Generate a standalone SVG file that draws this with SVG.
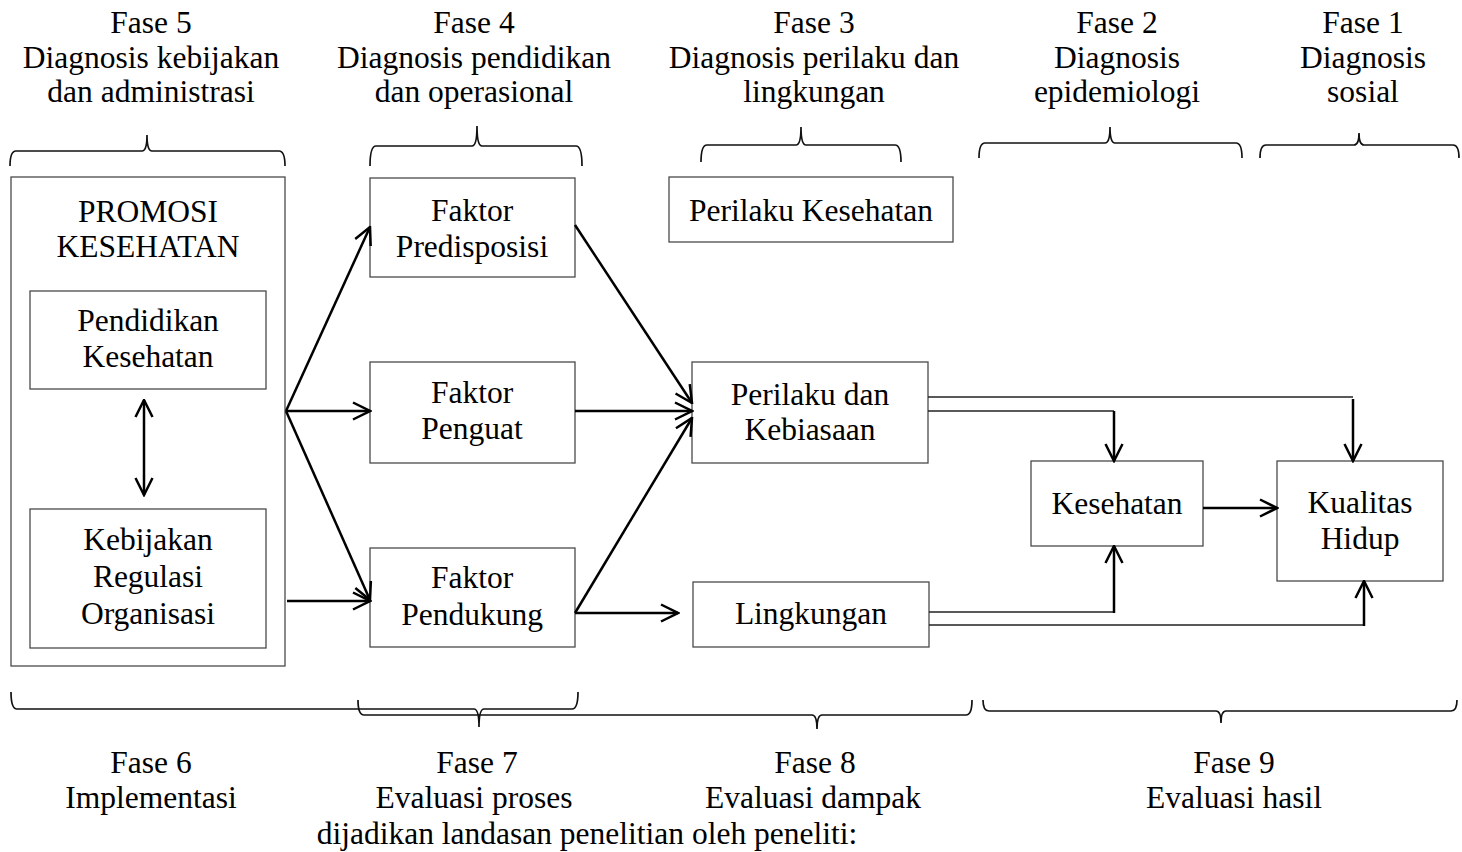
<svg xmlns="http://www.w3.org/2000/svg" width="1462" height="852" viewBox="0 0 1462 852">
<style>
  text { font-family: "Liberation Serif", "Times New Roman", serif; font-size: 31.5px; fill: #000; text-anchor: middle; }
  .box { fill: #fff; stroke: #4a4a4a; stroke-width: 1.3; }
  .arr { fill: none; stroke: #000; stroke-width: 2.5; marker-end: url(#ah); }
  .thin { fill: none; stroke: #222; stroke-width: 1.6; }
  .brace { fill: none; stroke: #111; stroke-width: 1.7; }
</style>
<defs>
  <marker id="ah" viewBox="0 0 20 20" refX="18.5" refY="10" markerWidth="20" markerHeight="20" markerUnits="userSpaceOnUse" orient="auto-start-reverse">
    <path d="M1.5,1.5 L18.5,10 L1.5,18.5" fill="none" stroke="#000" stroke-width="2.5"/>
  </marker>
</defs>

<g id="labels-top">
  <text x="151" y="33">Fase 5</text>
  <text x="151" y="68">Diagnosis kebijakan</text>
  <text x="151" y="102">dan administrasi</text>
  <text x="474" y="33">Fase 4</text>
  <text x="474" y="68">Diagnosis pendidikan</text>
  <text x="474" y="102">dan operasional</text>
  <text x="814" y="33">Fase 3</text>
  <text x="814" y="68">Diagnosis perilaku dan</text>
  <text x="814" y="102">lingkungan</text>
  <text x="1117" y="33">Fase 2</text>
  <text x="1117" y="68">Diagnosis</text>
  <text x="1117" y="102">epidemiologi</text>
  <text x="1363" y="33">Fase 1</text>
  <text x="1363" y="68">Diagnosis</text>
  <text x="1363" y="102">sosial</text>
</g>

<g id="braces">
  <path class="brace" d="M10,166 Q10,151 16,151 L142,151 Q147,151 147,135 Q147,151 152,151 L279,151 Q285,151 285,166"/>
  <path class="brace" d="M370,166 Q370,146 376,146 L472,146 Q477,146 477,126 Q477,146 482,146 L576,146 Q582,146 582,166"/>
  <path class="brace" d="M701,162 Q701,145 707,145 L796,145 Q801,145 801,127 Q801,145 806,145 L895,145 Q901,145 901,162"/>
  <path class="brace" d="M979,158 Q979,143 985,143 L1105,143 Q1110,143 1110,127 Q1110,143 1115,143 L1236,143 Q1242,143 1242,158"/>
  <path class="brace" d="M1260,158 Q1260,145 1266,145 L1354,145 Q1359,145 1359,133 Q1359,145 1364,145 L1453,145 Q1459,145 1459,158"/>
  <path class="brace" d="M11,692 Q11,709 17,709 L474,709 Q479,709 479,727 Q479,709 484,709 L572,709 Q578,709 578,692"/>
  <path class="brace" d="M358,700 Q358,715 364,715 L812,715 Q817,715 817,729 Q817,715 822,715 L966,715 Q972,715 972,700"/>
  <path class="brace" d="M983,700 Q983,711 989,711 L1216,711 Q1221,711 1221,723 Q1221,711 1226,711 L1451,711 Q1457,711 1457,700"/>
</g>

<g id="labels-bottom">
  <text x="151" y="773">Fase 6</text>
  <text x="151" y="808">Implementasi</text>
  <text x="477" y="773">Fase 7</text>
  <text x="474" y="808">Evaluasi proses</text>
  <text x="815" y="773">Fase 8</text>
  <text x="813" y="808">Evaluasi dampak</text>
  <text x="1234" y="773">Fase 9</text>
  <text x="1234" y="808">Evaluasi hasil</text>
  <text x="587" y="844">dijadikan landasan penelitian oleh peneliti:</text>
</g>

<g id="promosi-kesehatan">
  <rect class="box" x="11" y="177" width="274" height="489"/>
  <text x="148" y="222">PROMOSI</text>
  <text x="148" y="257">KESEHATAN</text>
</g>
<g id="pendidikan-kesehatan">
  <rect class="box" x="30" y="291" width="236" height="98"/>
  <text x="148" y="331">Pendidikan</text>
  <text x="148" y="367">Kesehatan</text>
</g>
<g id="kebijakan">
  <rect class="box" x="30" y="509" width="236" height="139"/>
  <text x="148" y="550">Kebijakan</text>
  <text x="148" y="587">Regulasi</text>
  <text x="148" y="624">Organisasi</text>
</g>
<g id="faktor-predisposisi">
  <rect class="box" x="370" y="178" width="205" height="99"/>
  <text x="472" y="221">Faktor</text>
  <text x="472" y="257">Predisposisi</text>
</g>
<g id="faktor-penguat">
  <rect class="box" x="370" y="362" width="205" height="101"/>
  <text x="472" y="403">Faktor</text>
  <text x="472" y="439">Penguat</text>
</g>
<g id="faktor-pendukung">
  <rect class="box" x="370" y="548" width="205" height="99"/>
  <text x="472" y="588">Faktor</text>
  <text x="472" y="625">Pendukung</text>
</g>
<g id="perilaku-kesehatan">
  <rect class="box" x="669" y="177" width="284" height="65"/>
  <text x="811" y="221">Perilaku Kesehatan</text>
</g>
<g id="perilaku-kebiasaan">
  <rect class="box" x="692" y="362" width="236" height="101"/>
  <text x="810" y="405">Perilaku dan</text>
  <text x="810" y="440">Kebiasaan</text>
</g>
<g id="lingkungan">
  <rect class="box" x="693" y="582" width="236" height="65"/>
  <text x="811" y="624">Lingkungan</text>
</g>
<g id="kesehatan">
  <rect class="box" x="1031" y="461" width="172" height="85"/>
  <text x="1117" y="514">Kesehatan</text>
</g>
<g id="kualitas-hidup">
  <rect class="box" x="1277" y="461" width="166" height="120"/>
  <text x="1360" y="513">Kualitas</text>
  <text x="1360" y="549">Hidup</text>
</g>

<g id="connectors">
  <line class="arr" x1="144" y1="400" x2="144" y2="495" marker-start="url(#ah)"/>
  <line class="arr" x1="286" y1="411" x2="370" y2="227"/>
  <line class="arr" x1="286" y1="411" x2="370" y2="411"/>
  <line class="arr" x1="286" y1="411" x2="370" y2="600"/>
  <line class="arr" x1="287" y1="601" x2="370" y2="601"/>
  <line class="arr" x1="575" y1="225" x2="692" y2="403"/>
  <line class="arr" x1="575" y1="411" x2="692" y2="411"/>
  <line class="arr" x1="575" y1="613" x2="692" y2="418"/>
  <line class="arr" x1="575" y1="613" x2="678" y2="613"/>
  <polyline class="thin" points="928,397 1353,397"/>
  <line class="arr" x1="1353" y1="399" x2="1353" y2="461"/>
  <polyline class="thin" points="928,411 1114,411"/>
  <line class="arr" x1="1114" y1="411" x2="1114" y2="461"/>
  <polyline class="thin" points="929,612 1114,612"/>
  <line class="arr" x1="1114" y1="613" x2="1114" y2="546"/>
  <polyline class="thin" points="929,625 1364,625"/>
  <line class="arr" x1="1364" y1="626" x2="1364" y2="581"/>
  <line class="arr" x1="1203" y1="508" x2="1277" y2="508"/>
</g>
</svg>
